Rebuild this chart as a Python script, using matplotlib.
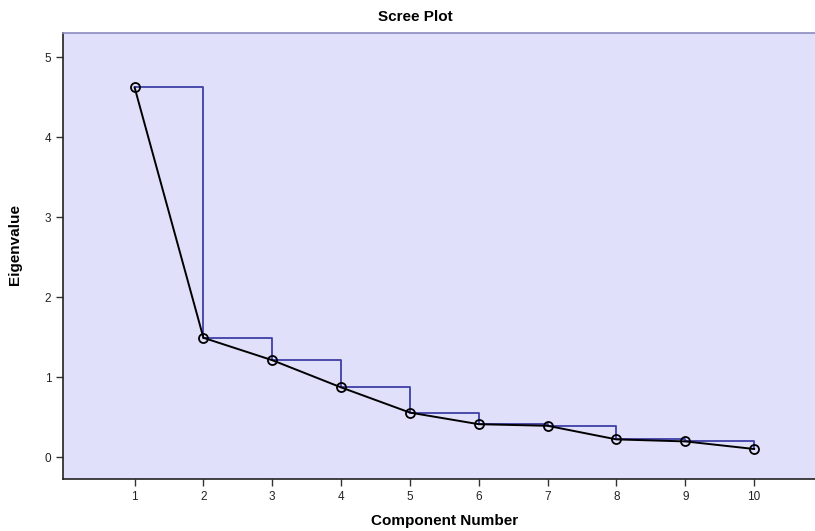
import matplotlib.pyplot as plt
import numpy as np

plt.rcParams['font.family'] = ['Liberation Sans', 'DejaVu Sans']

components = [1, 2, 3, 4, 5, 6, 7, 8, 9, 10]
eigenvalues = [4.62, 1.49, 1.21, 0.87, 0.555, 0.41, 0.39, 0.22, 0.195, 0.10]
yticks = [0, 1, 2, 3, 4, 5]

fig = plt.figure(figsize=(8.15, 5.31), dpi=100)
# axes runs a bit past the right edge of the canvas
ax = fig.add_axes([63 / 815, 1 - 479 / 531, 760 / 815, (479 - 33) / 531])
ax.set_facecolor('#e0e0fa')

# step outline: across at each eigenvalue, then down to the next one
x = np.array(components, dtype=float)
y = np.array(eigenvalues)
sx, sy = [], []
for i in range(len(x) - 1):
    sx += [x[i], x[i + 1], x[i + 1]]
    sy += [y[i], y[i], y[i + 1]]
ax.plot(sx, sy, color='#3f3fa8', lw=1.3, zorder=2)

ax.plot(x, y, color='black', lw=1.4, marker='o', ms=6.5,
        mfc='none', mec='black', mew=1.3, zorder=3)

ax.set_xlim(-0.04, 11.0)
ax.set_ylim(-0.275, 5.3)
ax.set_xticks(components)
ax.set_yticks(yticks)
ax.tick_params(labelsize=8.5, length=5, width=1, color='#333333',
               labelcolor='#222222', direction='out')

for side in ['left', 'bottom']:
    ax.spines[side].set_color('#222222')
    ax.spines[side].set_linewidth(1.2)
for side in ['top', 'right']:
    ax.spines[side].set_color('#8a8ac0')
    ax.spines[side].set_linewidth(1.2)

fig.text(415 / 815, 1 - 17 / 531, 'Scree Plot', ha='center', va='center',
         fontsize=11, fontweight='bold')
fig.text(445 / 815, 1 - 521 / 531, 'Component Number', ha='center', va='center',
         fontsize=11, fontweight='bold')
fig.text(15 / 815, 1 - 245 / 531, 'Eigenvalue', ha='center', va='center',
         rotation=90, fontsize=11, fontweight='bold')

fig.savefig('out.png', dpi=100)
